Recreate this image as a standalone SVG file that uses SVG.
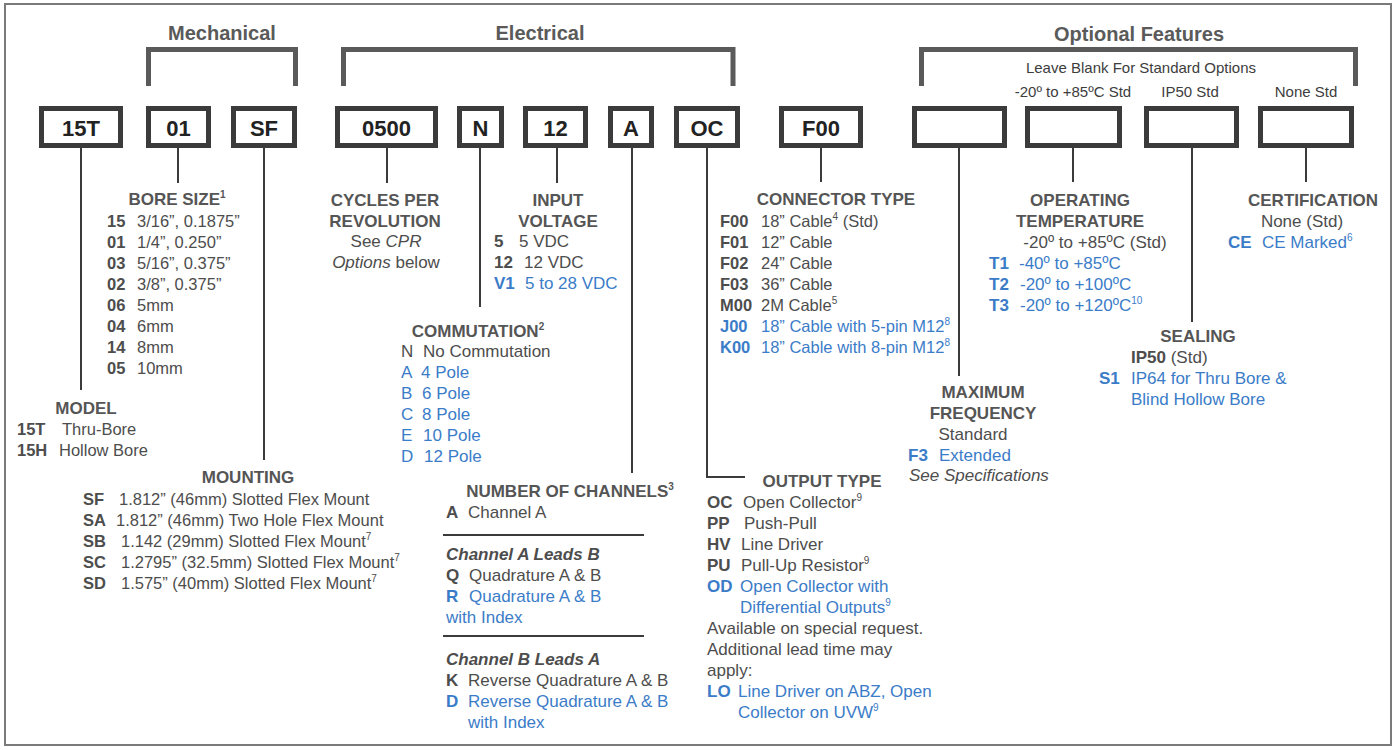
<svg xmlns="http://www.w3.org/2000/svg" width="1394" height="750" viewBox="0 0 1394 750">
<style>
text{font-family:"Liberation Sans",Arial,Helvetica,sans-serif;font-size:17px;fill:#4d4d4d}
.s{font-size:16.5px}
.h{font-weight:bold;font-size:17px;fill:#555;text-anchor:middle}
.grp{font-weight:bold;font-size:20px;fill:#5a5a5a;text-anchor:middle}
.note{font-size:15px;fill:#3d3d3d;text-anchor:middle}
.lbl{font-weight:bold;font-size:22px;fill:#222;text-anchor:middle}
.c{font-weight:bold;fill:#4d4d4d}
.bl{fill:#3b7cc8}
.bl .c,.c.bl{fill:#3b7cc8}
.it{font-style:italic}
.bi{font-weight:bold;font-style:italic;fill:#4d4d4d}
.mid{text-anchor:middle}
.sup{font-size:10px}
.box{fill:#fff;stroke:#3b3b3b;stroke-width:5}
.brk{fill:none;stroke:#5a5a5a;stroke-width:5}
.ln{fill:none;stroke:#3b3b3b;stroke-width:2}
</style>
<rect x="0" y="0" width="1394" height="750" fill="#fff"/>
<rect x="5" y="4" width="1386" height="741" fill="none" stroke="#7a7a7a" stroke-width="2"/>

<g id="group-labels">
<text class="grp" x="222" y="40">Mechanical</text>
<path class="brk" d="M148.5,86 V49.5 H295.5 V86"/>
<text class="grp" x="540" y="40">Electrical</text>
<path class="brk" d="M343.5,86 V49.5 H733 V86"/>
<text class="grp" x="1139" y="41">Optional Features</text>
<path class="brk" d="M921.5,86 V49.5 H1355.5 V86"/>
<text class="note" x="1141" y="73">Leave Blank For Standard Options</text>
<text class="note" x="1073" y="97">-20º to +85ºC Std</text>
<text class="note" x="1190" y="97">IP50 Std</text>
<text class="note" x="1306" y="97">None Std</text>
</g>

<g id="connectors">
<line class="ln" x1="81" y1="147" x2="81" y2="390"/>
<line class="ln" x1="178" y1="147" x2="178" y2="183"/>
<line class="ln" x1="264" y1="147" x2="264" y2="460"/>
<line class="ln" x1="387" y1="147" x2="387" y2="183"/>
<line class="ln" x1="480" y1="147" x2="480" y2="307"/>
<line class="ln" x1="557" y1="147" x2="557" y2="183"/>
<line class="ln" x1="632" y1="147" x2="632" y2="473"/>
<path class="ln" d="M707,147 V477 H745"/>
<line class="ln" x1="821" y1="147" x2="821" y2="182"/>
<line class="ln" x1="959" y1="147" x2="959" y2="376"/>
<line class="ln" x1="1073" y1="147" x2="1073" y2="182"/>
<line class="ln" x1="1192" y1="147" x2="1192" y2="322"/>
<line class="ln" x1="1306" y1="147" x2="1306" y2="182"/>
</g>

<g id="box-model"><rect class="box" x="41.5" y="108.5" width="79" height="37"/><text class="lbl" x="81" y="136">15T</text></g>
<g id="box-bore"><rect class="box" x="148.5" y="108.5" width="60" height="37"/><text class="lbl" x="178.5" y="136">01</text></g>
<g id="box-mount"><rect class="box" x="233.5" y="108.5" width="61" height="37"/><text class="lbl" x="264" y="136">SF</text></g>
<g id="box-cpr"><rect class="box" x="337.5" y="108.5" width="98" height="37"/><text class="lbl" x="386.5" y="136">0500</text></g>
<g id="box-comm"><rect class="box" x="459.5" y="108.5" width="42" height="37"/><text class="lbl" x="480.5" y="136">N</text></g>
<g id="box-volt"><rect class="box" x="525.5" y="108.5" width="60" height="37"/><text class="lbl" x="555.5" y="136">12</text></g>
<g id="box-chan"><rect class="box" x="610.5" y="108.5" width="41" height="37"/><text class="lbl" x="631" y="136">A</text></g>
<g id="box-out"><rect class="box" x="676.5" y="108.5" width="61" height="37"/><text class="lbl" x="707" y="136">OC</text></g>
<g id="box-conn"><rect class="box" x="781.5" y="108.5" width="79" height="37"/><text class="lbl" x="821" y="136">F00</text></g>
<g id="box-freq"><rect class="box" x="914.5" y="108.5" width="90" height="37"/></g>
<g id="box-temp"><rect class="box" x="1027.5" y="108.5" width="92" height="37"/></g>
<g id="box-seal"><rect class="box" x="1146.5" y="108.5" width="90" height="37"/></g>
<g id="box-cert"><rect class="box" x="1260.5" y="108.5" width="91" height="37"/></g>

<g id="bore-size">
<text class="h" x="177" y="205">BORE SIZE<tspan class="sup" dy="-7">1</tspan></text>
<text class="c s" x="107" y="227">15</text><text class="s" x="137" y="227">3/16”, 0.1875”</text>
<text class="c s" x="107" y="248">01</text><text class="s" x="137" y="248">1/4”, 0.250”</text>
<text class="c s" x="107" y="269">03</text><text class="s" x="137" y="269">5/16”, 0.375”</text>
<text class="c s" x="107" y="290">02</text><text class="s" x="137" y="290">3/8”, 0.375”</text>
<text class="c s" x="107" y="311">06</text><text class="s" x="137" y="311">5mm</text>
<text class="c s" x="107" y="332">04</text><text class="s" x="137" y="332">6mm</text>
<text class="c s" x="107" y="353">14</text><text class="s" x="137" y="353">8mm</text>
<text class="c s" x="107" y="374">05</text><text class="s" x="137" y="374">10mm</text>
</g>

<g id="model">
<text class="h" x="86" y="414">MODEL</text>
<text class="c s" x="17" y="435">15T</text><text class="s" x="62" y="435">Thru-Bore</text>
<text class="c s" x="17" y="456">15H</text><text class="s" x="59" y="456">Hollow Bore</text>
</g>

<g id="mounting">
<text class="h" x="248" y="483">MOUNTING</text>
<text class="c s" x="83" y="505">SF</text><text class="s" x="119" y="505">1.812” (46mm) Slotted Flex Mount</text>
<text class="c s" x="83" y="526">SA</text><text class="s" x="116" y="526">1.812” (46mm) Two Hole Flex Mount</text>
<text class="c s" x="83" y="547">SB</text><text class="s" x="121" y="547">1.142 (29mm) Slotted Flex Mount<tspan class="sup" dy="-7">7</tspan></text>
<text class="c s" x="83" y="568">SC</text><text class="s" x="121" y="568">1.2795” (32.5mm) Slotted Flex Mount<tspan class="sup" dy="-7">7</tspan></text>
<text class="c s" x="83" y="589">SD</text><text class="s" x="121" y="589">1.575” (40mm) Slotted Flex Mount<tspan class="sup" dy="-7">7</tspan></text>
</g>

<g id="cpr">
<text class="h" x="385" y="206">CYCLES PER</text>
<text class="h" x="385" y="227">REVOLUTION</text>
<text class="mid" x="386" y="247">See <tspan class="it">CPR</tspan></text>
<text class="mid" x="386" y="268"><tspan class="it">Options</tspan> below</text>
</g>

<g id="input-voltage">
<text class="h" x="558" y="206">INPUT</text>
<text class="h" x="558" y="227">VOLTAGE</text>
<text class="c" x="494" y="247">5</text><text x="519" y="247">5 VDC</text>
<text class="c" x="494" y="268">12</text><text x="524" y="268">12 VDC</text>
<text class="c bl" x="494" y="289">V1</text><text class="bl" x="525" y="289">5 to 28 VDC</text>
</g>

<g id="commutation">
<text class="h" x="478" y="337">COMMUTATION<tspan class="sup" dy="-7">2</tspan></text>
<text x="401" y="357">N</text><text x="423" y="357">No Commutation</text>
<text class="bl" x="401" y="378">A</text><text class="bl" x="421" y="378">4 Pole</text>
<text class="bl" x="401" y="399">B</text><text class="bl" x="422" y="399">6 Pole</text>
<text class="bl" x="401" y="420">C</text><text class="bl" x="422" y="420">8 Pole</text>
<text class="bl" x="401" y="441">E</text><text class="bl" x="423" y="441">10 Pole</text>
<text class="bl" x="401" y="462">D</text><text class="bl" x="424" y="462">12 Pole</text>
</g>

<g id="channels">
<text class="h" x="570" y="497">NUMBER OF CHANNELS<tspan class="sup" dy="-7">3</tspan></text>
<text class="c" x="446" y="518">A</text><text x="468" y="518">Channel A</text>
<line x1="443" y1="535" x2="644" y2="535" stroke="#3b3b3b" stroke-width="2"/>
<text class="bi" x="446" y="560">Channel A Leads B</text>
<text class="c" x="446" y="581">Q</text><text x="469" y="581">Quadrature A &amp; B</text>
<text class="c bl" x="446" y="602">R</text><text class="bl" x="469" y="602">Quadrature A &amp; B</text>
<text class="bl" x="446" y="623">with Index</text>
<line x1="443" y1="636" x2="644" y2="636" stroke="#3b3b3b" stroke-width="2"/>
<text class="bi" x="446" y="665">Channel B Leads A</text>
<text class="c" x="446" y="686">K</text><text x="468" y="686">Reverse Quadrature A &amp; B</text>
<text class="c bl" x="446" y="707">D</text><text class="bl" x="468" y="707">Reverse Quadrature A &amp; B</text>
<text class="bl" x="468" y="728">with Index</text>
</g>

<g id="output-type">
<text class="h" x="822" y="487">OUTPUT TYPE</text>
<text class="c" x="707" y="508">OC</text><text x="743" y="508">Open Collector<tspan class="sup" dy="-7">9</tspan></text>
<text class="c" x="707" y="529">PP</text><text x="744" y="529">Push-Pull</text>
<text class="c" x="707" y="550">HV</text><text x="741" y="550">Line Driver</text>
<text class="c" x="707" y="571">PU</text><text x="741" y="571">Pull-Up Resistor<tspan class="sup" dy="-7">9</tspan></text>
<text class="c bl" x="707" y="592">OD</text><text class="bl" x="740" y="592">Open Collector with</text>
<text class="bl" x="740" y="613">Differential Outputs<tspan class="sup" dy="-7">9</tspan></text>
<text x="707" y="634">Available on special request.</text>
<text x="707" y="655">Additional lead time may</text>
<text x="707" y="676">apply:</text>
<text class="c bl" x="707" y="697">LO</text><text class="bl" x="738" y="697">Line Driver on ABZ, Open</text>
<text class="bl" x="738" y="718">Collector on UVW<tspan class="sup" dy="-7">9</tspan></text>
</g>

<g id="connector-type">
<text class="h" x="836" y="205">CONNECTOR TYPE</text>
<text class="c s" x="720" y="227">F00</text><text class="s" x="761" y="227">18” Cable<tspan class="sup" dy="-7">4</tspan><tspan dy="7"> (Std)</tspan></text>
<text class="c s" x="720" y="248">F01</text><text class="s" x="761" y="248">12” Cable</text>
<text class="c s" x="720" y="269">F02</text><text class="s" x="761" y="269">24” Cable</text>
<text class="c s" x="720" y="290">F03</text><text class="s" x="761" y="290">36” Cable</text>
<text class="c s" x="720" y="311">M00</text><text class="s" x="761" y="311">2M Cable<tspan class="sup" dy="-7">5</tspan></text>
<text class="c bl s" x="720" y="332">J00</text><text class="bl s" x="761" y="332">18” Cable with 5-pin M12<tspan class="sup" dy="-7">8</tspan></text>
<text class="c bl s" x="720" y="353">K00</text><text class="bl s" x="761" y="353">18” Cable with 8-pin M12<tspan class="sup" dy="-7">8</tspan></text>
</g>

<g id="max-frequency">
<text class="h" x="983" y="398">MAXIMUM</text>
<text class="h" x="983" y="419">FREQUENCY</text>
<text class="mid" x="973" y="440">Standard</text>
<text class="c bl" x="908" y="461">F3</text><text class="bl" x="939" y="461">Extended</text>
<text class="it" x="909" y="481">See Specifications</text>
</g>

<g id="operating-temperature">
<text class="h" x="1080" y="206">OPERATING</text>
<text class="h" x="1080" y="227">TEMPERATURE</text>
<text class="mid" x="1095" y="248">-20º to +85ºC (Std)</text>
<text class="c bl" x="989" y="269">T1</text><text class="bl" x="1019" y="269">-40º to +85ºC</text>
<text class="c bl" x="989" y="290">T2</text><text class="bl" x="1020" y="290">-20º to +100ºC</text>
<text class="c bl" x="989" y="311">T3</text><text class="bl" x="1020" y="311">-20º to +120ºC<tspan class="sup" dy="-7">10</tspan></text>
</g>

<g id="sealing">
<text class="h" x="1198" y="342">SEALING</text>
<text x="1131" y="363"><tspan class="c">IP50</tspan> (Std)</text>
<text class="c bl" x="1099" y="384">S1</text><text class="bl" x="1131" y="384">IP64 for Thru Bore &amp;</text>
<text class="bl" x="1131" y="405">Blind Hollow Bore</text>
</g>

<g id="certification">
<text class="h" x="1313" y="206">CERTIFICATION</text>
<text class="mid" x="1302" y="227">None (Std)</text>
<text class="c bl" x="1228" y="248">CE</text><text class="bl" x="1262" y="248">CE Marked<tspan class="sup" dy="-7">6</tspan></text>
</g>
</svg>
